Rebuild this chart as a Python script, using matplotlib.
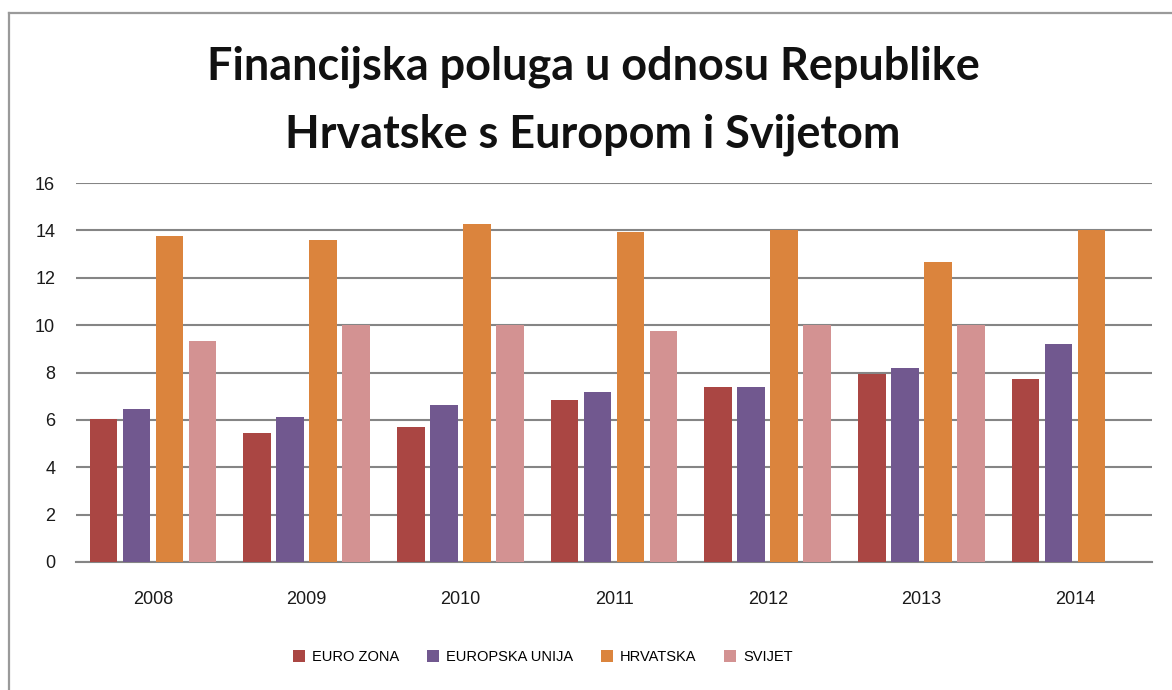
import numpy as np
import matplotlib.pyplot as plt
from matplotlib.lines import Line2D
from matplotlib.patches import Patch

plt.rcParams['font.family'] = ['Liberation Sans', 'DejaVu Sans']

years = ['2008', '2009', '2010', '2011', '2012', '2013', '2014']
series = ['EURO ZONA', 'EUROPSKA UNIJA', 'HRVATSKA', 'SVIJET']
euro_zona = [6.05, 5.46, 5.71, 6.83, 7.40, 7.95, 7.74]
europska_unija = [6.47, 6.14, 6.64, 7.17, 7.40, 8.17, 9.20]
hrvatska = [13.77, 13.60, 14.27, 13.95, 14.00, 12.65, 14.00]
svijet = [9.35, 10.0, 10.0, 9.77, 10.0, 10.0, np.nan]
colors = ['#AA4643', '#71588F', '#DB843D', '#D39292']

W, H = 1172, 690
fig = plt.figure(figsize=(W / 100, H / 100), dpi=100)
ax = fig.add_axes([76 / W, 1 - 562 / H, (1152 - 76) / W, (562 - 183) / H])

x = np.arange(len(years))
slot = 0.2147
for i, (vals, c) in enumerate(zip([euro_zona, europska_unija, hrvatska, svijet], colors)):
    ax.bar(x + (i - 1.5) * slot, vals, width=0.18, color=c, zorder=3)

ax.set_xlim(-0.5, len(years) - 0.5)
ax.set_ylim(0, 16)
ax.set_yticks(range(0, 17, 2))
ax.set_xticks(x)
ax.set_xticklabels(years)
ax.yaxis.grid(True, color='#858585', linewidth=1.5, zorder=0)
ax.set_axisbelow(True)
for s in ['top', 'right', 'left']:
    ax.spines[s].set_visible(False)
ax.spines['bottom'].set_color('#858585')
ax.spines['bottom'].set_linewidth(1.5)
ax.tick_params(axis='both', length=0, labelsize=13, colors='#1a1a1a')
ax.tick_params(axis='y', pad=15)
ax.tick_params(axis='x', pad=21)

fig.text(593 / W, 1 - 101 / H, 'Financijska poluga u odnosu Republike\nHrvatske s Europom i Svijetom',
         ha='center', va='center', fontsize=32.4, fontweight='bold', family='Lato',
         linespacing=1.75, color='#111111')

handles = [Patch(facecolor=c) for c in colors]
fig.legend(handles, series, loc='center', bbox_to_anchor=(543 / W, 1 - 657 / H), ncol=4,
           frameon=False, fontsize=10.5, handlelength=0.8, handleheight=0.8,
           handletextpad=0.5, columnspacing=1.9)

# chart border (left and top edges visible)
fig.add_artist(Line2D([9 / W, 9 / W], [0, 1 - 13 / H], color='#9a9a9a', linewidth=1.6))
fig.add_artist(Line2D([9 / W, 1], [1 - 13 / H, 1 - 13 / H], color='#9a9a9a', linewidth=1.6))

fig.savefig('out.png', dpi=100)
